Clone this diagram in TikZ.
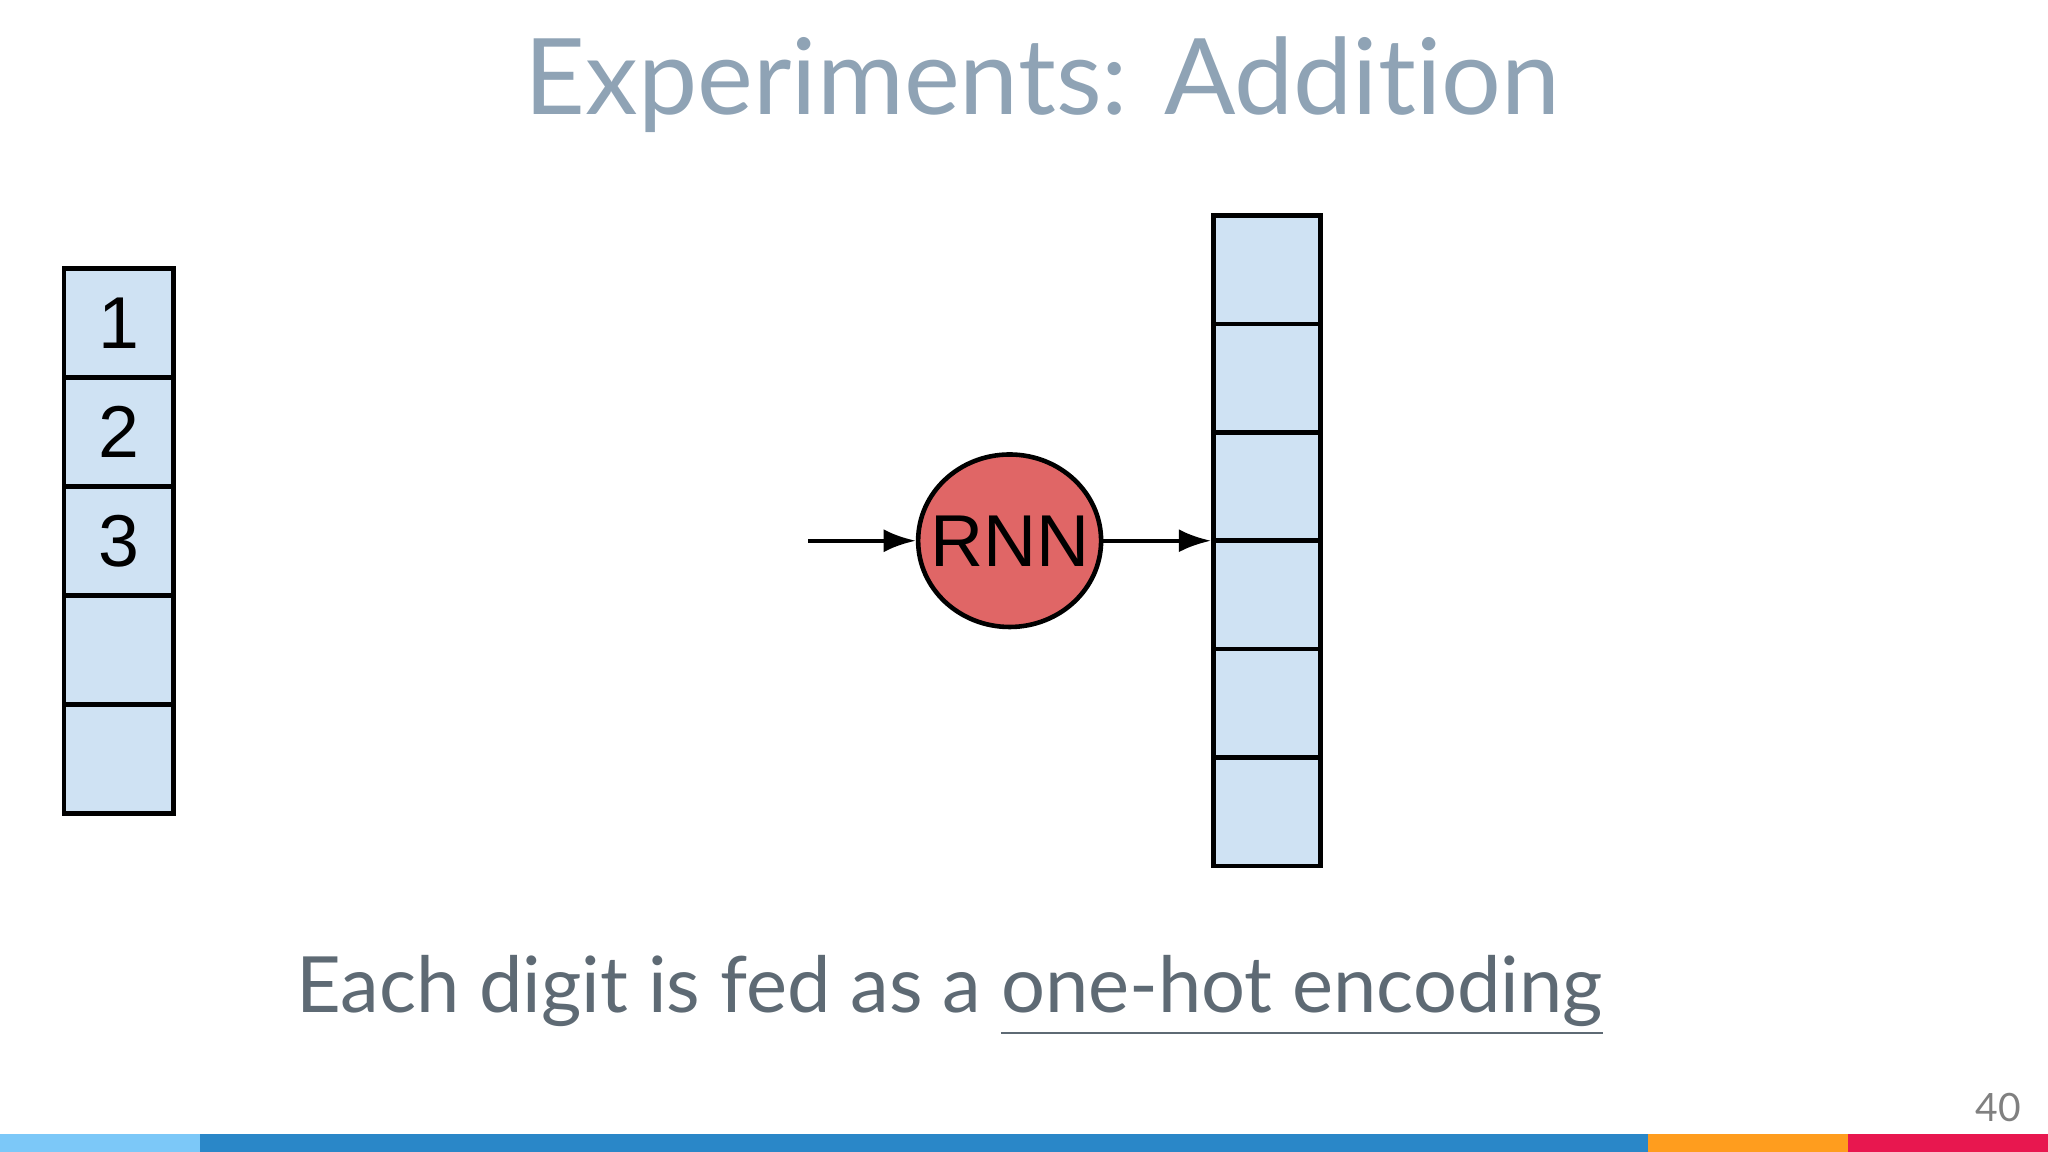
\documentclass[tikz,border=0pt]{standalone}
\usepackage{fontspec}
\setmainfont{Lato}[Ligatures={NoCommon,NoDiscretionary}]
\newfontfamily\arialf{Liberation Sans}
\usetikzlibrary{arrows.meta,shapes.geometric}
\definecolor{cellc}{HTML}{CFE2F3}
\definecolor{rnnc}{HTML}{E06666}
\definecolor{titlec}{HTML}{8FA3B5}
\definecolor{textc}{HTML}{5E6A74}
\definecolor{barA}{HTML}{7CC8F8}
\definecolor{barB}{HTML}{2A87C8}
\definecolor{barC}{HTML}{FF9D1E}
\definecolor{barD}{HTML}{E8174F}
\tikzset{
 cell/.style={draw=black,line width=1pt,fill=cellc,minimum width=0.84cm,minimum height=0.835cm,inner sep=0pt,font=\arialf\fontsize{16}{16}\selectfont},
 rcell/.style={cell,minimum width=0.82cm,minimum height=0.83cm},
 conn/.style={line width=0.9pt,-{Latex[length=7pt,width=5pt]}}
}
\begin{document}
\begin{tikzpicture}[x=0.01cm,y=-0.01cm]
\useasboundingbox (0,0) rectangle (1568,882);
\node[text=titlec,font=\fontsize{23}{23}\selectfont] (title) at (798,65) {Experiments: Addition};
% left column
\foreach \i/\t in {0/1,1/2,2/3,3/{},4/{}}{
 \node[cell] (l\i) at (91,{247.5+83.4*\i}) {\t};
}
% right column
\foreach \i in {0,...,5}{
 \node[rcell] (r\i) at (970,{206.5+83*\i}) {};
}
\node[draw=black,line width=1pt,fill=rnnc,ellipse,minimum width=1.4cm,minimum height=1.32cm,inner xsep=-14pt,inner ysep=0pt,font=\arialf\fontsize{16}{16}\selectfont] (rnn) at (773,414) {RNN};
\coordinate (in) at (619,414);
\draw[conn] (in) -- (rnn.west);
\draw[conn] (rnn.east) -- (rnn.east -| r2.west);
\node[text=textc,font=\fontsize{16.9}{16.9}\selectfont,anchor=base west,inner sep=0pt] (cap) at (226,775) {Each digit is fed as a \underline{one-hot encoding}};
\node[text=gray,font=\fontsize{8.5}{8.5}\selectfont] (pg) at (1530,848) {40};
\fill[barA] (0,868) rectangle (153,882);
\fill[barB] (153,868) rectangle (1262,882);
\fill[barC] (1262,868) rectangle (1415,882);
\fill[barD] (1415,868) rectangle (1568,882);
\end{tikzpicture}
\end{document}
